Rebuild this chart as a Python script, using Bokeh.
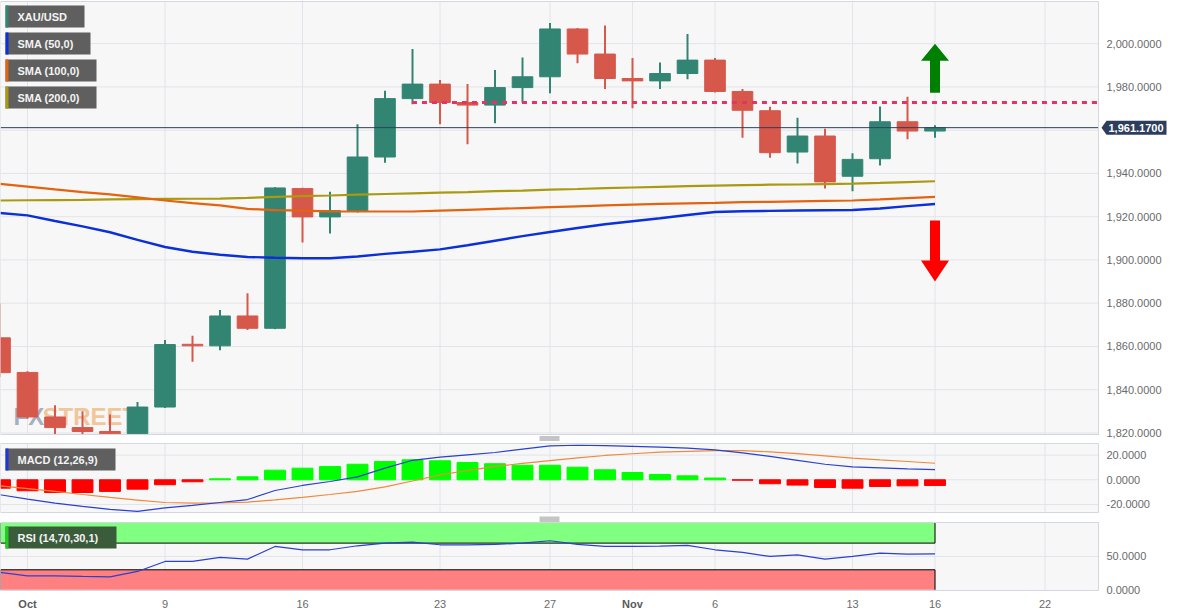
from bokeh.plotting import figure
from bokeh.models import Range1d, ColumnDataSource
from bokeh.layouts import column
from bokeh.embed import file_html
from bokeh.resources import INLINE
from bokeh.core.properties import value

# ---------------- data ----------------
DATES = ["2023-09-29",
         "2023-10-02", "2023-10-03", "2023-10-04", "2023-10-05", "2023-10-06",
         "2023-10-09", "2023-10-10", "2023-10-11", "2023-10-12", "2023-10-13",
         "2023-10-16", "2023-10-17", "2023-10-18", "2023-10-19", "2023-10-20",
         "2023-10-23", "2023-10-24", "2023-10-25", "2023-10-26", "2023-10-27",
         "2023-10-30", "2023-10-31", "2023-11-01", "2023-11-02", "2023-11-03",
         "2023-11-06", "2023-11-07", "2023-11-08", "2023-11-09", "2023-11-10",
         "2023-11-13", "2023-11-14", "2023-11-15", "2023-11-16"]
FUTURE = ["2023-11-17", "2023-11-20", "2023-11-21", "2023-11-22", "2023-11-23", "2023-11-24"]

OPEN = [1864.0, 1848.0, 1827.4, 1822.5, 1820.7, 1819.8, 1832.0, 1861.0, 1860.3, 1874.1, 1868.4,
        1933.0, 1919.9, 1922.8, 1947.6, 1974.6, 1981.3, 1972.8, 1971.6, 1979.7, 1984.7,
        2006.8, 1995.2, 1983.9, 1982.8, 1986.2, 1992.4, 1977.9, 1969.0, 1949.9, 1957.3,
        1938.7, 1946.8, 1963.9, 1959.6]
HIGH = [1880.0, 1848.6, 1832.8, 1830.0, 1828.6, 1834.3, 1863.0, 1864.9, 1876.9, 1884.6, 1933.6,
        1933.4, 1931.5, 1962.7, 1978.2, 1997.5, 1983.2, 1981.3, 1987.8, 1993.6, 2009.6,
        2007.3, 2008.4, 1993.4, 1991.3, 2004.5, 1993.4, 1979.0, 1970.8, 1965.8, 1960.7,
        1949.3, 1970.9, 1975.5, 1962.3]
LOW = [1845.9, 1826.6, 1815.0, 1816.0, 1816.5, 1810.5, 1831.5, 1852.9, 1858.3, 1867.6, 1868.0,
       1908.1, 1912.2, 1922.0, 1944.9, 1972.0, 1962.7, 1953.5, 1963.2, 1972.8, 1977.1,
       1991.0, 1979.0, 1970.2, 1979.0, 1983.6, 1977.4, 1956.5, 1947.2, 1944.6, 1933.0,
       1931.8, 1943.7, 1955.8, 1956.5]
CLOSE = [1847.9, 1827.4, 1822.5, 1820.7, 1819.6, 1832.0, 1860.9, 1860.3, 1874.1, 1868.4, 1933.3,
         1919.9, 1922.8, 1947.6, 1974.6, 1981.3, 1972.8, 1971.6, 1979.7, 1984.7, 2006.8,
         1995.2, 1983.9, 1982.8, 1986.2, 1992.4, 1977.9, 1969.2, 1949.6, 1957.3, 1936.1,
         1946.5, 1963.9, 1959.6, 1961.17]

SMA50 = [1921.7, 1920.6, 1918.0, 1915.5, 1912.8, 1909.3, 1906.0, 1903.8, 1902.4, 1901.4, 1901.0,
         1900.8, 1900.8, 1901.6, 1902.8, 1903.8, 1904.9, 1906.8, 1908.9, 1911.0, 1912.9,
         1914.8, 1916.5, 1917.9, 1919.3, 1920.8, 1922.2, 1922.5, 1922.7, 1922.9, 1923.0,
         1923.1, 1923.8, 1924.9, 1925.9]
SMA100 = [1935.2, 1933.9, 1932.6, 1931.4, 1930.3, 1928.9, 1927.5, 1926.3, 1925.2, 1923.6, 1923.0,
          1922.8, 1922.5, 1922.4, 1922.4, 1922.4, 1922.8, 1923.2, 1923.6, 1924.0, 1924.4,
          1924.8, 1925.2, 1925.6, 1925.9, 1926.2, 1926.4, 1926.7, 1926.9, 1927.1, 1927.3,
          1927.5, 1928.0, 1928.6, 1929.2]
SMA200 = [1927.5, 1927.6, 1927.7, 1927.8, 1928.0, 1928.1, 1928.2, 1928.3, 1928.4, 1928.7, 1929.2,
          1929.5, 1929.8, 1930.2, 1930.5, 1930.8, 1931.1, 1931.4, 1931.8, 1932.1, 1932.5,
          1932.8, 1933.2, 1933.5, 1933.8, 1934.1, 1934.4, 1934.6, 1934.8, 1934.9, 1935.1,
          1935.3, 1935.6, 1936.0, 1936.4]

MACD = [-12.1, -15.7, -18.9, -21.6, -24.0, -25.6, -22.7, -20.8, -18.4, -16.0, -8.7,
        -4.6, -1.4, 2.4, 9.4, 15.8, 18.3, 20.2, 22.1, 24.8, 27.5,
        28.0, 27.6, 27.0, 26.4, 25.6, 24.3, 21.8, 18.9, 15.8, 12.6,
        10.5, 9.7, 8.9, 8.3]
SIGNAL = [-4.9, -7.1, -9.4, -11.9, -14.3, -16.4, -18.4, -18.9, -18.8, -18.1, -16.3,
          -14.3, -11.9, -9.4, -5.8, -1.0, 4.0, 7.5, 10.8, 13.3, 15.6,
          17.8, 19.7, 21.1, 22.4, 23.1, 23.7, 23.7, 22.6, 21.2, 19.3,
          17.5, 16.1, 14.8, 13.4]
HIST = [-6.8, -8.9, -10.3, -10.3, -9.4, -7.6, -4.0, -1.6, 0.8, 2.4, 7.8,
        9.4, 10.8, 12.6, 14.8, 16.2, 15.4, 14.0, 13.0, 11.8, 11.8,
        10.2, 8.1, 5.9, 4.3, 3.2, 1.4, -0.3, -3.2, -4.3, -6.2,
        -6.8, -5.4, -4.9, -4.6]
RSI = [26, 21, 21, 20, 19.5, 27.5, 42.5, 42.5, 48.5, 46, 65,
       60, 60, 66, 70, 71.5, 67.5, 67.5, 68, 70, 73.5,
       68, 65, 65, 65.5, 66.5, 60, 56, 50, 52.5, 46,
       50, 55, 53.5, 54]

TICK_DATES = ["2023-10-02", "2023-10-09", "2023-10-16", "2023-10-23", "2023-10-27",
              "2023-11-01", "2023-11-06", "2023-11-13", "2023-11-16", "2023-11-22"]
TICK_LABELS = ["Oct", "9", "16", "23", "27", "Nov", "6", "13", "16", "22"]
PRICE_TICKS = [1820, 1840, 1860, 1880, 1900, 1920, 1940, 1960, 1980, 2000]
MACD_TICKS = [-20, 0, 20]
RSI_TICKS = [0, 50]
RSI_LOWER, RSI_UPPER, RSI_MAX = 30, 70, 100

LAST_PRICE = 1961.17
RESISTANCE = 1972.8
RESISTANCE_FROM = "2023-10-20"
ARROW_DATE = "2023-11-16"
BULL_FROM, BULL_TO = 1977.3, 2000.0
BEAR_FROM, BEAR_TO = 1918.3, 1890.0

PRICE_LEGEND = ["XAU/USD", "SMA (50,0)", "SMA (100,0)", "SMA (200,0)"]
MACD_LEGEND = "MACD (12,26,9)"
RSI_LEGEND = "RSI (14,70,30,1)"

# ---------------- styling ----------------
FONT = "Liberation Sans"
BG = "#f7f7f8"
GRID = "#e2e4ea"
OUTLINE = "#d3d7e0"
LABEL_C = "#6a6a6a"
UP, DOWN = "#338573", "#d6584a"
C50, C100, C200 = "#0b2fd8", "#e5620e", "#a99a12"
NAVY = "#2c3e5c"

ALL = DATES + FUTURE
POS = {d: i for i, d in enumerate(ALL)}
X = [POS[d] for d in DATES]
TICK_X = [POS[d] for d in TICK_DATES]

FIG_W = 1180
FRAME_W = 1098
X0 = POS["2023-10-02"] - 0.982
X1 = POS["2023-10-02"] + 38.945
PXU = FRAME_W / (X1 - X0)
XEND = X0 + FIG_W / PXU
XR = Range1d(X0, XEND)


def px_x(px):
    return X0 + px / PXU


class Panel:
    """A figure whose frame covers its whole canvas strip; the plotting panel is a sub-box."""

    def __init__(self, c_top, c_bot, p_top, p_bot, v_top, v_bot):
        self.vpp = (v_top - v_bot) / (p_bot - p_top)
        self.c_top = c_top
        self.v_top, self.v_bot = v_top, v_bot
        self.y_end = v_top + (p_top - c_top) * self.vpp
        self.y_start = v_bot - (c_bot - p_bot) * self.vpp
        p = figure(width=FIG_W, height=c_bot - c_top, x_range=XR,
                   y_range=Range1d(self.y_start, self.y_end),
                   output_backend="svg", toolbar_location=None,
                   x_axis_location=None, y_axis_location=None,
                   min_border_left=0, min_border_right=0, min_border_top=0, min_border_bottom=0)
        p.background_fill_color = "white"
        p.border_fill_color = "white"
        p.outline_line_color = None
        p.xgrid.visible = False
        p.ygrid.visible = False
        self.fig = p

    def cy(self, y):
        return self.y_end - (y - self.c_top) * self.vpp

    def base(self, yticks):
        p = self.fig
        p.quad(left=[X0], right=[X1], top=[self.v_top], bottom=[self.v_bot], fill_color=BG, line_color=None)
        p.segment(x0=[X0] * len(yticks), x1=[X1] * len(yticks), y0=yticks, y1=yticks,
                  line_color=GRID, line_width=1)
        p.segment(x0=TICK_X, x1=TICK_X, y0=[self.v_bot] * len(TICK_X), y1=[self.v_top] * len(TICK_X),
                  line_color=GRID, line_width=1)

    def finish(self, label_ticks):
        p = self.fig
        p.quad(left=[X0, X0, X1], right=[X1, X1, XEND],
               top=[self.y_end, self.v_bot, self.y_end],
               bottom=[self.v_top, self.y_start, self.y_start],
               fill_color="white", line_color=None)
        p.quad(left=[X0], right=[X1], top=[self.v_top], bottom=[self.v_bot], fill_color=None,
               line_color=OUTLINE, line_width=1)
        p.text(x=[px_x(FRAME_W + 8)] * len(label_ticks), y=label_ticks,
               text=[f"{t:,.4f}" for t in label_ticks],
               text_font=value(FONT), text_font_size="11px", text_color=LABEL_C,
               text_baseline="middle", text_align="left")

    def legend(self, left, right, top, bottom, strip, text, fill="#5f5f5f"):
        p = self.fig
        p.quad(left=[px_x(left)], right=[px_x(right)], top=[self.cy(top)], bottom=[self.cy(bottom)],
               fill_color=fill, line_color=None)
        p.quad(left=[px_x(left)], right=[px_x(left + 3)], top=[self.cy(top)], bottom=[self.cy(bottom)],
               fill_color=strip, line_color=None)
        p.text(x=[px_x(left + 12)], y=[self.cy((top + bottom) / 2 + 0.5)], text=[text],
               text_font=value(FONT), text_font_size="11px", text_font_style="bold",
               text_color="#f3f3f3", text_baseline="middle", text_align="left")

    def handle(self, ys):
        self.fig.segment(x0=[px_x(539)] * len(ys), x1=[px_x(559)] * len(ys),
                         y0=[self.cy(y) for y in ys], y1=[self.cy(y) for y in ys],
                         line_color="#8a8a8a", line_width=1)


# ---------------- price panel ----------------
pp = Panel(0, 441, 1, 434, 2019.5, 1819.3)
price = pp.fig
pp.base(PRICE_TICKS)

price.text(x=[px_x(13)], y=[1827.4], text=["FX"], text_font=value(FONT),
           text_font_size="24px", text_font_style="bold", text_color="#8e9db3", text_alpha=0.8,
           text_baseline="alphabetic")
price.text(x=[px_x(42)], y=[1827.4], text=["STREET"], text_font=value(FONT),
           text_font_size="24px", text_font_style="bold", text_color="#efc08e", text_alpha=0.9,
           text_baseline="alphabetic")

col = [UP if c >= o else DOWN for o, c in zip(OPEN, CLOSE)]
src = ColumnDataSource(dict(x=X, o=OPEN, h=HIGH, l=LOW, c=CLOSE,
                            top=[max(o, c) for o, c in zip(OPEN, CLOSE)],
                            bot=[min(o, c) for o, c in zip(OPEN, CLOSE)], col=col))
price.segment(x0="x", y0="l", x1="x", y1="h", line_color="col", line_width=2, source=src)
price.vbar(x="x", width=0.75, top="top", bottom="bot", fill_color="col", line_color="col",
           line_width=1, source=src)

price.line(X, SMA200, line_color=C200, line_width=2.2)
price.line(X, SMA100, line_color=C100, line_width=2.2)
price.line(X, SMA50, line_color=C50, line_width=2.4)

price.line([X0, X1], [LAST_PRICE, LAST_PRICE], line_color=NAVY, line_width=1)
price.line([POS[RESISTANCE_FROM] - 0.02, X1], [RESISTANCE, RESISTANCE], line_color="#e33468",
           line_width=3, line_dash="5 5")

ax_ = POS[ARROW_DATE]
hw, HW = 5 / PXU, 14 / PXU
g_head = BULL_TO - 17 * pp.vpp
price.patch([ax_ - hw, ax_ + hw, ax_ + hw, ax_ + HW, ax_, ax_ - HW, ax_ - hw],
            [BULL_FROM, BULL_FROM, g_head, g_head, BULL_TO, g_head, g_head],
            fill_color="#008000", line_color=None)
r_head = BEAR_TO + 21 * pp.vpp
price.patch([ax_ - hw, ax_ + hw, ax_ + hw, ax_ + HW, ax_, ax_ - HW, ax_ - hw],
            [BEAR_FROM, BEAR_FROM, r_head, r_head, BEAR_TO, r_head, r_head],
            fill_color="#ff0000", line_color=None)

pp.finish([t for t in PRICE_TICKS if abs(t - LAST_PRICE) / pp.vpp > 10])

legend_colors = [UP, C50, C100, C200]
legend_right = [84, 90, 96, 96]
for i, (t, c, r) in enumerate(zip(PRICE_LEGEND, legend_colors, legend_right)):
    top = 5 + i * 27
    pp.legend(5, r, top, top + 22, c, t)

hh = 7 * pp.vpp
price.patch([px_x(FRAME_W + 3), px_x(FRAME_W + 8), px_x(FRAME_W + 68), px_x(FRAME_W + 68), px_x(FRAME_W + 8)],
            [LAST_PRICE, LAST_PRICE + hh, LAST_PRICE + hh, LAST_PRICE - hh, LAST_PRICE - hh],
            fill_color=NAVY, line_color=None)
price.text(x=[px_x(FRAME_W + 10)], y=[LAST_PRICE], text=[f"{LAST_PRICE:,.4f}"],
           text_font=value(FONT), text_font_size="11px", text_font_style="bold",
           text_color="white", text_baseline="middle", text_align="left")
pp.handle([436.5, 438.5, 440.5])

# ---------------- MACD panel ----------------
mp = Panel(441, 516, 443, 512, 29.4, -26.5)
macd = mp.fig
mp.base(MACD_TICKS)
hsrc = ColumnDataSource(dict(x=X, top=[max(v, 0) for v in HIST], bot=[min(v, 0) for v in HIST],
                             col=["#00ff00" if v >= 0 else "#ff0000" for v in HIST]))
macd.vbar(x="x", width=0.76, top="top", bottom="bot", fill_color="col", line_color="col",
          line_width=1, source=hsrc)
macd.line(X, SIGNAL, line_color="#f0893a", line_width=1.2)
macd.line(X, MACD, line_color="#2b3fd0", line_width=1.2)
mp.finish(MACD_TICKS)
mp.legend(5, 115, 448, 470, "#1d3ad8", MACD_LEGEND)

# ---------------- RSI panel ----------------
rp = Panel(516, 614, 522, 590, 100.9, -1.05)
rsi = rp.fig
rp.base([50])
last_x = X[-1]
rsi.quad(left=[X0], right=[last_x], top=[RSI_MAX], bottom=[RSI_UPPER], fill_color="#80ff80",
         line_color=None)
rsi.quad(left=[X0], right=[last_x], top=[RSI_LOWER], bottom=[0], fill_color="#ff8080",
         line_color=None)
rsi.multi_line(xs=[[X0, last_x, last_x], [X0, last_x, last_x], [X0, X0], [X0, X0]],
               ys=[[RSI_UPPER, RSI_UPPER, RSI_MAX], [RSI_LOWER, RSI_LOWER, 0],
                   [RSI_UPPER, RSI_MAX], [0, RSI_LOWER]],
               line_color="black", line_width=1)
rsi.line(X, RSI, line_color="#2b3fd0", line_width=1.2)
rp.finish(RSI_TICKS)
rp.legend(5, 116, 526, 548, "#22cc22", RSI_LEGEND, fill="#3b5c3b")
rp.handle([516.5, 518.5, 520.5])

# date labels under the RSI panel
months = [(x, t) for x, t in zip(TICK_X, TICK_LABELS) if not t.isdigit()]
days = [(x, t) for x, t in zip(TICK_X, TICK_LABELS) if t.isdigit()]
label_y = rp.cy(603.5)
rsi.text(x=[x for x, _ in days], y=[label_y] * len(days), text=[t for _, t in days],
         text_font=value(FONT), text_font_size="11px", text_color=LABEL_C,
         text_baseline="middle", text_align="center")
rsi.text(x=[x for x, _ in months], y=[label_y] * len(months), text=[t for _, t in months],
         text_font=value(FONT), text_font_size="11px", text_font_style="bold", text_color="#5a5a5a",
         text_baseline="middle", text_align="center")

layout = column(price, macd, rsi, spacing=0)
open("out.html", "w").write(file_html(layout, INLINE))
